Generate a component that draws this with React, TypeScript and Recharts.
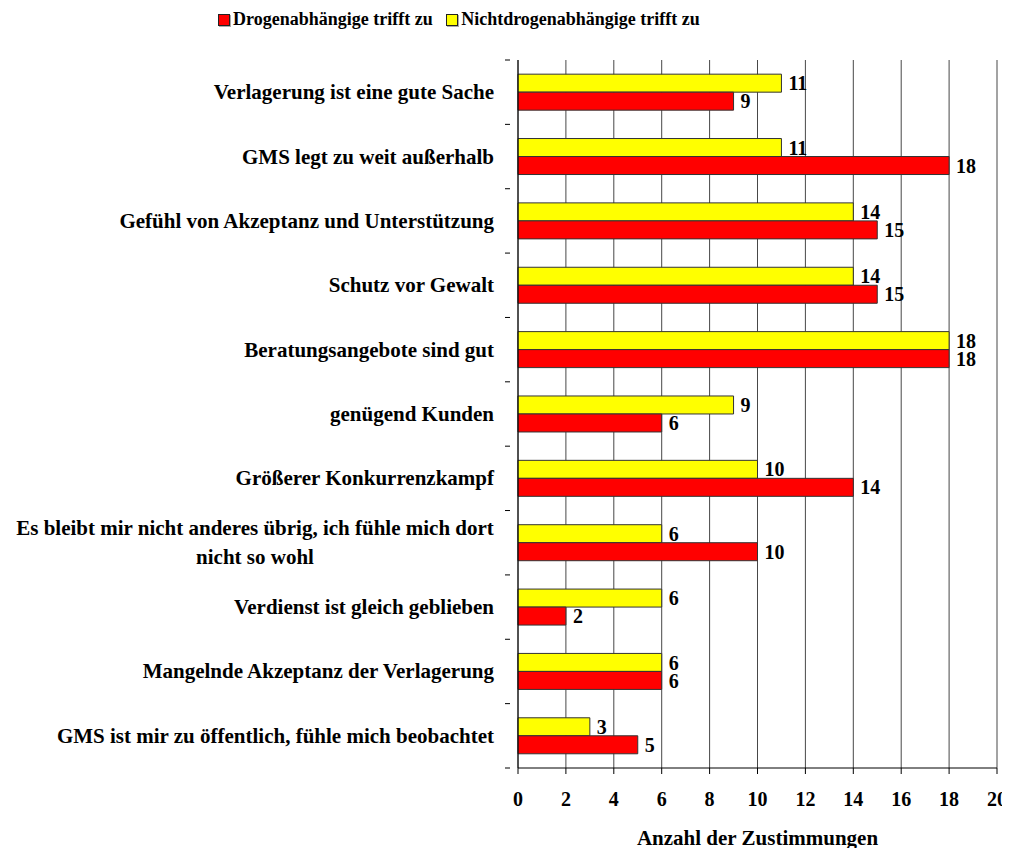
import { BarChart, Bar, XAxis, YAxis, CartesianGrid, LabelList } from 'recharts';

const categories = [
  'Verlagerung ist eine gute Sache',
  'GMS legt zu weit außerhalb',
  'Gefühl von Akzeptanz und Unterstützung',
  'Schutz vor Gewalt',
  'Beratungsangebote sind gut',
  'genügend Kunden',
  'Größerer Konkurrenzkampf',
  'Es bleibt mir nicht anderes übrig, ich fühle mich dort nicht so wohl',
  'Verdienst ist gleich geblieben',
  'Mangelnde Akzeptanz der Verlagerung',
  'GMS ist mir zu öffentlich, fühle mich beobachtet',
];
const nichtDrogen = [11, 11, 14, 14, 18, 9, 10, 6, 6, 6, 3];
const drogen = [9, 18, 15, 15, 18, 6, 14, 10, 2, 6, 5];
const xTicks = [0, 2, 4, 6, 8, 10, 12, 14, 16, 18, 20];

const data = categories.map((name, i) => ({ name, nicht: nichtDrogen[i], drogen: drogen[i] }));

const FONT = '"Liberation Serif", "Times New Roman", serif';
const FS = 21;
const FS_NUM = 20;

let ctx: CanvasRenderingContext2D | null = null;
const measure = (s: string) => {
  if (!ctx) ctx = document.createElement('canvas').getContext('2d');
  if (!ctx) return s.length * 10;
  ctx.font = `bold ${FS}px ${FONT}`;
  return ctx.measureText(s).width;
};

// umbrechen, wenn Text zu lang ist
const wrap = (text: string, max: number) => {
  const words = text.split(' ');
  const lines: string[] = [];
  let cur = '';
  words.forEach((w) => {
    const t = cur ? cur + ' ' + w : w;
    if (measure(t) > max && cur) {
      lines.push(cur);
      cur = w;
    } else cur = t;
  });
  if (cur) lines.push(cur);
  return lines;
};

const CategoryTick = (props: any) => {
  const { x, y, payload, index } = props;
  const half = payload.offset || 0;
  const lines = wrap(String(payload.value), 500);
  const tx = x - 16;
  const lineH = 29;
  const widest = Math.max(...lines.map(measure));
  return (
    <g>
      <line x1={x - 5} x2={x} y1={y - half} y2={y - half} stroke="#000" />
      {index === categories.length - 1 && (
        <line x1={x - 5} x2={x} y1={y + half} y2={y + half} stroke="#000" />
      )}
      {lines.map((l, i) => (
        <text
          key={i}
          x={lines.length > 1 ? tx - widest / 2 : tx}
          y={y + (i - (lines.length - 1) / 2) * lineH}
          dy={7}
          textAnchor={lines.length > 1 ? 'middle' : 'end'}
          fontFamily={FONT}
          fontWeight="bold"
          fontSize={FS}
          fill="#000"
        >
          {l}
        </text>
      ))}
    </g>
  );
};

const Swatch = ({ color }: { color: string }) => (
  <span
    style={{
      display: 'inline-block',
      width: 10,
      height: 10,
      background: color,
      border: '1px solid #222',
      boxShadow: '1px 1px 0 #aaa',
      marginRight: 3,
      verticalAlign: 'middle',
      position: 'relative',
      top: -1,
    }}
  />
);

export default function App() {
  return (
    <div style={{ position: 'relative', width: 1000, height: 840 }}>
      <div
        style={{
          position: 'absolute',
          top: 1,
          left: 210,
          fontFamily: FONT,
          fontWeight: 'bold',
          fontSize: 18,
          whiteSpace: 'nowrap',
          zIndex: 1,
        }}
      >
        <Swatch color="#FF0000" />
        Drogenabhängige trifft zu&nbsp;&nbsp;&nbsp;
        <Swatch color="#FFFF00" />
        Nichtdrogenabhängige trifft zu
      </div>
      <BarChart
        width={1000}
        height={840}
        data={data}
        layout="vertical"
        margin={{ top: 52, right: 11, bottom: 0, left: 0 }}
        barGap={0}
        barCategoryGap="22%"
      >
        <CartesianGrid horizontal={false} stroke="#333" strokeOpacity={0.9} />
        <XAxis
          type="number"
          domain={[0, 20]}
          ticks={xTicks}
          interval={0}
          height={80}
          axisLine={{ stroke: '#000' }}
          tickLine={{ stroke: '#000' }}
          tickSize={6}
          tick={{ fill: '#000', fontFamily: FONT, fontWeight: 'bold', fontSize: FS_NUM }}
          dy={16}
          label={{
            value: 'Anzahl der Zustimmungen',
            position: 'insideBottom',
            offset: 3,
            fill: '#000',
            fontFamily: FONT,
            fontWeight: 'bold',
            fontSize: FS,
          }}
        />
        <YAxis
          type="category"
          dataKey="name"
          width={510}
          interval={0}
          axisLine={{ stroke: '#000' }}
          tickLine={false}
          tick={<CategoryTick />}
        />
        <Bar dataKey="nicht" fill="#FFFF00" stroke="#333" strokeWidth={1} isAnimationActive={false}>
          <LabelList dataKey="nicht" position="right" offset={7} fill="#000" fontFamily={FONT} fontWeight="bold" fontSize={FS_NUM} />
        </Bar>
        <Bar dataKey="drogen" fill="#FF0000" stroke="#333" strokeWidth={1} isAnimationActive={false}>
          <LabelList dataKey="drogen" position="right" offset={7} fill="#000" fontFamily={FONT} fontWeight="bold" fontSize={FS_NUM} />
        </Bar>
      </BarChart>
    </div>
  );
}
